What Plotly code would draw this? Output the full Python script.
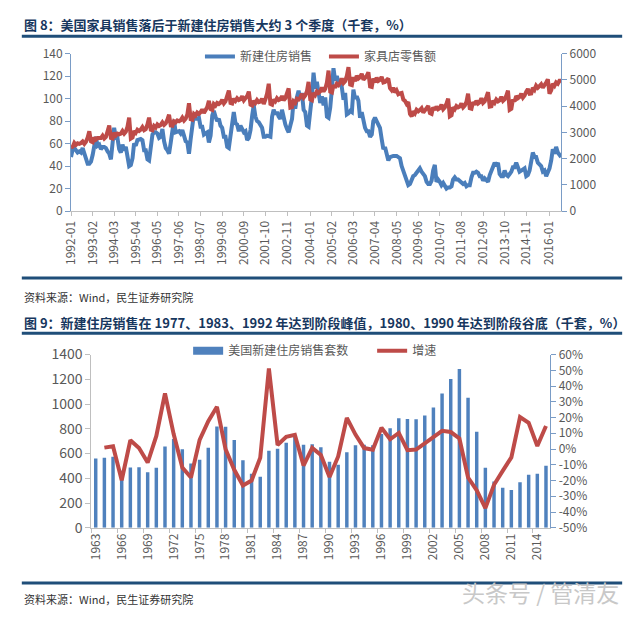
import plotly.graph_objects as go
import pandas as pd

# ---------------- Data: chart 1 (monthly, 1992-01 .. 2016-08) ----------------
months = pd.date_range("1992-01-01", "2016-08-01", freq="MS")

# 新建住房销售 (thousand units, left axis)
new_home_sales = [
    48, 55, 56, 53, 52, 53, 52, 56, 51, 48, 42, 42,        # 1992
    44, 50, 60, 66, 58, 59, 55, 57, 57, 56, 53, 51,        # 1993
    46, 58, 74, 65, 65, 55, 52, 59, 54, 57, 45, 40,        # 1994
    41, 47, 60, 58, 63, 64, 64, 63, 54, 54, 46, 45,        # 1995
    54, 68, 70, 70, 69, 65, 66, 73, 62, 56, 54, 51,        # 1996
    61, 69, 81, 70, 71, 71, 69, 72, 67, 62, 61, 51,        # 1997
    64, 75, 86, 82, 82, 83, 75, 75, 68, 69, 70, 61,        # 1998
    67, 85, 89, 84, 80, 82, 76, 74, 66, 66, 57, 56,        # 1999
    67, 78, 88, 78, 77, 71, 76, 73, 70, 71, 63, 65,        # 2000
    72, 85, 94, 84, 80, 79, 76, 74, 66, 66, 67, 66,        # 2001
    66, 84, 90, 86, 88, 84, 82, 90, 82, 77, 73, 70,        # 2002
    76, 82, 98, 91, 101, 107, 99, 105, 90, 88, 76, 75,     # 2003
    89, 102, 123, 109, 115, 105, 96, 102, 94, 101, 84, 83, # 2004
    92, 109, 127, 116, 120, 115, 117, 110, 99, 105, 86, 87,# 2005
    89, 88, 108, 100, 102, 98, 83, 88, 80, 74, 71, 71,     # 2006
    66, 68, 80, 83, 80, 77, 74, 64, 55, 57, 52, 45,        # 2007
    48, 49, 49, 49, 49, 48, 47, 40, 35, 32, 26, 23,        # 2008
    24, 29, 31, 32, 34, 37, 38, 35, 33, 31, 26, 24,        # 2009
    24, 27, 36, 41, 26, 28, 26, 23, 25, 23, 20, 21,        # 2010
    21, 22, 28, 30, 28, 28, 27, 25, 24, 25, 22, 23,        # 2011
    23, 30, 34, 34, 35, 34, 31, 31, 27, 29, 27, 26,        # 2012
    32, 36, 41, 43, 40, 43, 33, 31, 31, 36, 32, 31,        # 2013
    33, 35, 39, 39, 43, 38, 35, 36, 37, 38, 31, 32,        # 2014
    36, 46, 52, 48, 48, 43, 42, 40, 35, 36, 31, 34,        # 2015
    38, 45, 55, 51, 57, 52, 50, 48,                        # 2016
]

# 家具店零售额 (million USD, right axis)
furniture_sales = [
    2430, 2450, 2600, 2520, 2580, 2560, 2590, 2650, 2560, 2640, 2800, 3040,  # 1992
    2650, 2620, 2800, 2720, 2780, 2760, 2780, 2870, 2760, 2820, 2990, 3260,  # 1993
    2780, 2760, 2980, 2880, 2950, 2920, 2950, 3050, 2950, 3020, 3220, 3560,  # 1994
    2760, 2800, 3050, 2980, 3100, 3050, 3100, 3200, 3080, 3120, 3300, 3560,  # 1995
    3100, 3080, 3240, 3180, 3300, 3240, 3280, 3380, 3280, 3340, 3480, 3670,  # 1996
    3260, 3250, 3420, 3380, 3450, 3420, 3460, 3560, 3450, 3520, 3680, 4110,  # 1997
    3500, 3480, 3700, 3640, 3750, 3700, 3760, 3870, 3740, 3820, 3960, 4200,  # 1998
    3880, 3850, 4080, 4020, 4120, 4080, 4130, 4240, 4100, 4180, 4350, 4590,  # 1999
    4120, 4100, 4280, 4200, 4300, 4230, 4260, 4370, 4220, 4280, 4380, 4550,  # 2000
    4050, 4020, 4200, 4120, 4230, 4150, 4170, 4280, 4080, 4250, 4480, 4850,  # 2001
    4080, 4050, 4250, 4180, 4300, 4230, 4260, 4380, 4220, 4300, 4450, 4670,  # 2002
    3940, 3960, 4180, 4120, 4280, 4250, 4330, 4460, 4320, 4400, 4560, 4920,  # 2003
    4250, 4220, 4500, 4420, 4560, 4500, 4560, 4700, 4560, 4650, 4900, 5350,  # 2004
    4550, 4520, 4800, 4700, 4850, 4800, 4880, 5050, 4880, 4950, 5150, 5480,  # 2005
    4820, 4800, 5100, 4950, 5150, 5050, 5100, 5230, 5000, 5050, 5150, 5290,  # 2006
    4750, 4730, 5050, 4900, 5080, 4960, 5000, 5110, 4900, 4920, 5000, 5050,  # 2007
    4680, 4600, 4700, 4520, 4600, 4450, 4480, 4500, 4250, 4200, 4080, 4150,  # 2008
    3700, 3610, 3800, 3720, 3860, 3800, 3850, 3920, 3750, 3820, 3900, 4000,  # 2009
    3730, 3700, 3950, 3850, 3980, 3880, 3920, 4050, 3880, 3950, 4100, 4280,  # 2010
    3610, 3650, 3950, 3880, 4000, 3950, 3980, 4100, 3950, 4020, 4160, 4470,  # 2011
    3920, 3900, 4150, 4050, 4200, 4100, 4150, 4300, 4120, 4180, 4350, 4530,  # 2012
    3980, 3990, 4200, 4120, 4250, 4180, 4220, 4350, 4200, 4260, 4400, 4590,  # 2013
    3860, 3900, 4250, 4180, 4380, 4300, 4350, 4470, 4320, 4400, 4550, 4650,  # 2014
    4470, 4480, 4700, 4620, 4780, 4700, 4760, 4830, 4700, 4780, 4900, 5020,  # 2015
    4470, 4600, 4850, 4770, 4900, 4850, 4960, 4960,                          # 2016
]

x1_tick_labels = ["1992-01", "1993-02", "1994-03", "1995-04", "1996-05", "1997-06",
                  "1998-07", "1999-08", "2000-09", "2001-10", "2002-11", "2004-01",
                  "2005-02", "2006-03", "2007-04", "2008-05", "2009-06", "2010-07",
                  "2011-08", "2012-09", "2013-10", "2014-11", "2016-01"]

# ---------------- Data: chart 2 (annual) ----------------
years = [str(y) for y in range(1963, 2016)]
home_units = [560, 565, 575, 461, 487, 490, 448, 485, 656, 718, 634, 519, 549,
              646, 819, 817, 709, 545, 436, 412, 623, 639, 688, 750, 671, 676,
              650, 534, 509, 610, 666, 670, 667, 757, 804, 886, 880, 877, 908,
              973, 1086, 1203, 1283, 1051, 776, 485, 375, 323, 306, 368, 429,
              437, 501]
growth_years = years[1:]
growth_pct = [0.9, 1.8, -19.8, 5.6, 0.6, -8.6, 8.3, 35.3, 9.5, -11.7, -18.1, 5.8,
              17.7, 26.8, -0.2, -13.2, -23.1, -20.0, -5.5, 51.2, 2.6, 7.7, 9.0,
              -10.5, 0.7, -3.8, -17.8, -4.7, 19.8, 9.2, 0.6, -0.4, 13.5, 6.2,
              10.2, -0.7, -0.3, 3.5, 7.2, 11.6, 10.8, 6.7, -18.1, -26.2, -37.5,
              -22.7, -13.9, -5.3, 20.3, 16.6, 1.9, 14.6]
pct_ticks = list(range(-50, 61, 10))
pct_tick_text = [f"{v}%" for v in pct_ticks]

# ---------------- Styling ----------------
W, H = 632, 620
def px(p):
    return p / W
def py(p):
    return 1 - p / H

BLUE = "#4A7EBB"
RED = "#BE4B48"
BAR = "#4F81BD"
TXT = "#595959"
NAVY = "#1F4E79"
FONT = "Noto Sans CJK SC, Noto Sans, sans-serif"

fig = go.Figure()

fig.add_trace(go.Scatter(x=months, y=new_home_sales, name="新建住房销售", mode="lines",
                         line=dict(color=BLUE, width=4), xaxis="x", yaxis="y",
                         legend="legend"))
fig.add_trace(go.Scatter(x=months, y=furniture_sales, name="家具店零售额", mode="lines",
                         line=dict(color=RED, width=4), xaxis="x", yaxis="y2",
                         legend="legend"))

fig.add_trace(go.Bar(x=years, y=home_units, name="美国新建住房销售套数",
                     marker=dict(color=BAR, line=dict(width=0)), xaxis="x2", yaxis="y3",
                     showlegend=False))
# legend proxy for the bar series (wide swatch like the original)
fig.add_trace(go.Scatter(x=[None], y=[None], name="美国新建住房销售套数", mode="lines",
                         line=dict(color=BAR, width=8), xaxis="x2", yaxis="y3",
                         legend="legend2", hoverinfo="skip"))
fig.add_trace(go.Scatter(x=growth_years, y=growth_pct, name="增速", mode="lines",
                         line=dict(color=RED, width=4), xaxis="x2", yaxis="y4",
                         legend="legend2"))

tickfont = dict(family=FONT, size=12, color=TXT)
tickfont_wide = dict(family=FONT, size=14, color=TXT)
AX_GRAY = "#BFBFBF"
AX_BLUE = "#7A9CC6"

fig.update_layout(
    width=W, height=H,
    margin=dict(l=0, r=0, t=0, b=0),
    paper_bgcolor="white", plot_bgcolor="white",
    font=dict(family=FONT, size=12, color=TXT),
    bargap=0.6,
    xaxis=dict(domain=[px(62), px(560)], anchor="y", type="date",
               range=[months[0], months[-1]],
               tickvals=[pd.Timestamp(t + "-01") for t in x1_tick_labels],
               ticktext=x1_tick_labels, tickangle=-90,
               ticks="outside", ticklen=4, tickcolor=AX_GRAY,
               showline=True, linecolor=AX_GRAY, linewidth=1,
               showgrid=False, zeroline=False, tickfont=tickfont),
    yaxis=dict(domain=[py(206.7), py(44)], anchor="x", range=[0, 140], dtick=20,
               ticks="outside", ticklen=5, tickcolor=AX_BLUE,
               showline=True, linecolor=AX_BLUE, linewidth=1,
               showgrid=False, zeroline=False, tickfont=tickfont),
    yaxis2=dict(overlaying="y", side="right", anchor="x", range=[0, 6000], dtick=1000,
                ticks="outside", ticklen=5, tickcolor=AX_BLUE,
                showline=True, linecolor=AX_BLUE, linewidth=1,
                showgrid=False, zeroline=False, tickfont=tickfont),
    xaxis2=dict(domain=[px(82.7), px(549)], anchor="y3", type="category",
                range=[-0.5, len(years) - 0.5], tickmode="linear", tick0=0, dtick=3,
                tickson="boundaries", tickangle=-90,
                ticks="outside", ticklen=4, tickcolor=AX_GRAY,
                showline=True, linecolor=AX_GRAY, linewidth=1,
                showgrid=False, zeroline=False, tickfont=tickfont),
    yaxis3=dict(domain=[py(534), py(355)], anchor="x2", range=[0, 1400], dtick=200,
                ticks="outside", ticklen=5, tickcolor=AX_GRAY,
                showline=True, linecolor=AX_GRAY, linewidth=1,
                showgrid=False, zeroline=False, tickfont=tickfont_wide),
    yaxis4=dict(overlaying="y3", side="right", anchor="x2", range=[-50, 60],
                tickvals=pct_ticks, ticktext=pct_tick_text,
                ticks="outside", ticklen=5, tickcolor=AX_BLUE,
                showline=True, linecolor=AX_BLUE, linewidth=1,
                showgrid=False, zeroline=False, tickfont=tickfont),
    legend=dict(orientation="h", x=px(193), y=py(47), xanchor="left", yanchor="middle",
                font=dict(family=FONT, size=12, color=TXT), bgcolor="rgba(0,0,0,0)",
                itemwidth=30, entrywidth=79),
    legend2=dict(orientation="h", x=px(181), y=py(351), xanchor="left", yanchor="middle",
                 font=dict(family=FONT, size=12, color=TXT), bgcolor="rgba(0,0,0,0)",
                 itemwidth=30, entrywidth=139),
    showlegend=True,
)

# separator rules
for yy in [26, 276, 333, 591]:
    fig.add_shape(type="line", xref="paper", yref="paper", x0=px(12), x1=px(622),
                  y0=py(yy), y1=py(yy), line=dict(color=NAVY, width=3))

TITLE_FONT = dict(family="Noto Sans CJK SC", size=13, color="#17375E", weight="bold")
SRC_FONT = dict(family="Noto Sans CJK SC", size=11, color="#333333")

fig.add_annotation(x=px(12), y=py(14), xref="paper", yref="paper", xanchor="left",
                   yanchor="middle", showarrow=False, font=TITLE_FONT,
                   text="图 8：美国家具销售落后于新建住房销售大约 3 个季度（千套，%）")
fig.add_annotation(x=px(12), y=py(296), xref="paper", yref="paper", xanchor="left",
                   yanchor="middle", showarrow=False, font=SRC_FONT,
                   text="资料来源：Wind，民生证券研究院")
fig.add_annotation(x=px(12), y=py(322), xref="paper", yref="paper", xanchor="left",
                   yanchor="middle", showarrow=False, font=TITLE_FONT,
                   text="图 9：新建住房销售在 1977、1983、1992 年达到阶段峰值，1980、1990 年达到阶段谷底（千套，%）")
fig.add_annotation(x=px(12), y=py(608), xref="paper", yref="paper", xanchor="left",
                   yanchor="middle", showarrow=False, font=SRC_FONT,
                   text="资料来源：Wind，民生证券研究院")
fig.add_annotation(x=px(621), y=py(600), xref="paper", yref="paper", xanchor="right",
                   yanchor="middle", showarrow=False,
                   font=dict(family="Noto Sans CJK SC", size=23, color="#C8C8C8"),
                   text="头条号 / 管清友")

fig.write_html("out.html", config={"displayModeBar": False},
               post_script="document.body.style.margin='0';document.body.style.overflow='hidden';")
